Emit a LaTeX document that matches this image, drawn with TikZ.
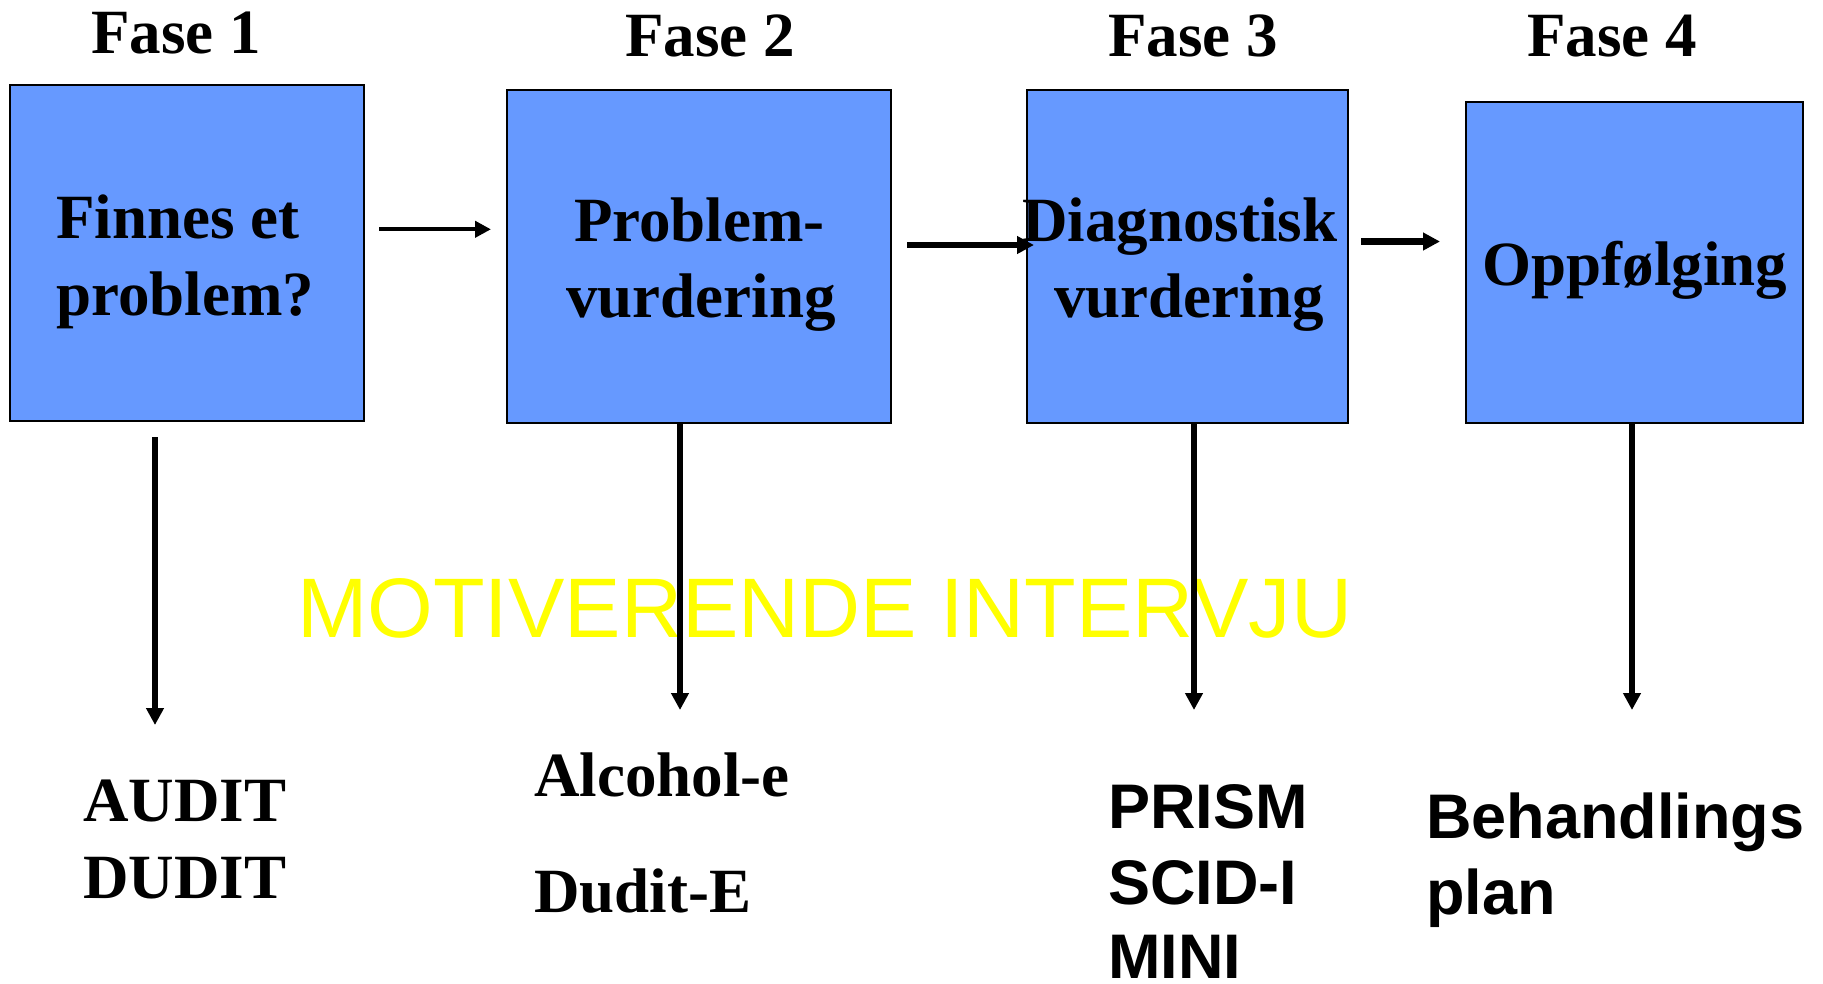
\documentclass[tikz,border=0pt]{standalone}
\usepackage{fontspec}
\setmainfont{Liberation Serif}
\newfontfamily\arialfont{Liberation Sans}
\usetikzlibrary{arrows.meta}
\definecolor{boxblue}{HTML}{6699FF}
\definecolor{miyellow}{HTML}{FFFF00}
\begin{document}
\begin{tikzpicture}[x=1pt,y=-1pt,
  phasebox/.style={draw=black,line width=2pt,fill=boxblue,inner sep=0pt,outer sep=0pt},
  serifbig/.style={font=\bfseries\fontsize{63}{76}\selectfont,inner sep=0pt,text=black},
  sansbig/.style={font=\arialfont\bfseries\fontsize{63}{76}\selectfont,inner sep=0pt,text=black},
  mitext/.style={font=\arialfont\fontsize{84.5}{100}\selectfont,inner sep=0pt,text=miyellow},
  thinarr/.style={line width=4pt,-{Triangle[length=16pt,width=16pt]}},
  thickarr/.style={line width=6.5pt,-{Triangle[length=17pt,width=17pt]}}]
\useasboundingbox (0,0) rectangle (1823,983);
\fill[white] (0,0) rectangle (1823,983);

% titles
\node[serifbig,anchor=base] (f1) at (176,53) {Fase 1};
\node[serifbig,anchor=base] (f2) at (710,56) {Fase 2};
\node[serifbig,anchor=base] (f3) at (1193,56) {Fase 3};
\node[serifbig,anchor=base] (f4) at (1612,56) {Fase 4};

% boxes
\node[phasebox,minimum width=354pt,minimum height=336pt] (b1) at (187,253) {};
\node[phasebox,minimum width=384pt,minimum height=333pt] (b2) at (699,256.5) {};
\node[phasebox,minimum width=321pt,minimum height=333pt] (b3) at (1187.5,256.5) {};
\node[phasebox,minimum width=337pt,minimum height=321pt] (b4) at (1634.5,262.5) {};

% box texts
\node[serifbig,anchor=base west] (t1a) at (56,238) {Finnes et};
\node[serifbig,anchor=base west] (t1b) at (56,315) {problem?};
\node[serifbig,anchor=base] (t2a) at (699.5,241) {Problem-};
\node[serifbig,anchor=base] (t2b) at (701,317) {vurdering};
\node[serifbig,anchor=base] (t3a) at (1180,241) {Diagnostisk};
\node[serifbig,anchor=base] (t3b) at (1189,317) {vurdering};
\node[serifbig,anchor=base] (t4a) at (1635,285) {Oppfølging};

% helper coordinates
\coordinate (h1) at (0,229.3);
\coordinate (h2) at (0,245);
\coordinate (h3) at (0,241.5);

% horizontal arrows
\draw[thinarr,shorten <=15pt,shorten >=16pt] (b1.east |- h1) -- (b2.west |- h1);
\draw[thickarr,shorten <=16pt,shorten >=-7pt] (b2.east |- h2) -- (b3.west |- h2);
\draw[thickarr,shorten <=13pt,shorten >=26pt] (b3.east |- h3) -- (b4.west |- h3);

% yellow text
\node[mitext,anchor=base west] (mi) at (297,637) {MOTIVERENDE INTERVJU};

% vertical arrows
\coordinate (e1) at (155,725);
\coordinate (e2) at (680,710);
\coordinate (e3) at (1194,710);
\coordinate (e4) at (1632,710);
\draw[thickarr,shorten <=16pt] (b1.south -| e1) -- (e1);
\draw[thickarr] (b2.south -| e2) -- (e2);
\draw[thickarr] (b3.south -| e3) -- (e3);
\draw[thickarr] (b4.south -| e4) -- (e4);

% bottom texts
\node[serifbig,anchor=base west] (l1a) at (83,821) {AUDIT};
\node[serifbig,anchor=base west] (l1b) at (83,898) {DUDIT};
\node[serifbig,anchor=base west] (l2a) at (534,796) {Alcohol-e};
\node[serifbig,anchor=base west] (l2b) at (534,912) {Dudit-E};
\node[sansbig,anchor=base west] (l3a) at (1108,828) {PRISM};
\node[sansbig,anchor=base west] (l3b) at (1108,904) {SCID-I};
\node[sansbig,anchor=base west,text depth=0pt] (l3c) at (1108,978) {MINI};
\node[sansbig,anchor=base west] (l4a) at (1426,838) {Behandlings};
\node[sansbig,anchor=base west] (l4b) at (1426,914) {plan};
\end{tikzpicture}
\end{document}
